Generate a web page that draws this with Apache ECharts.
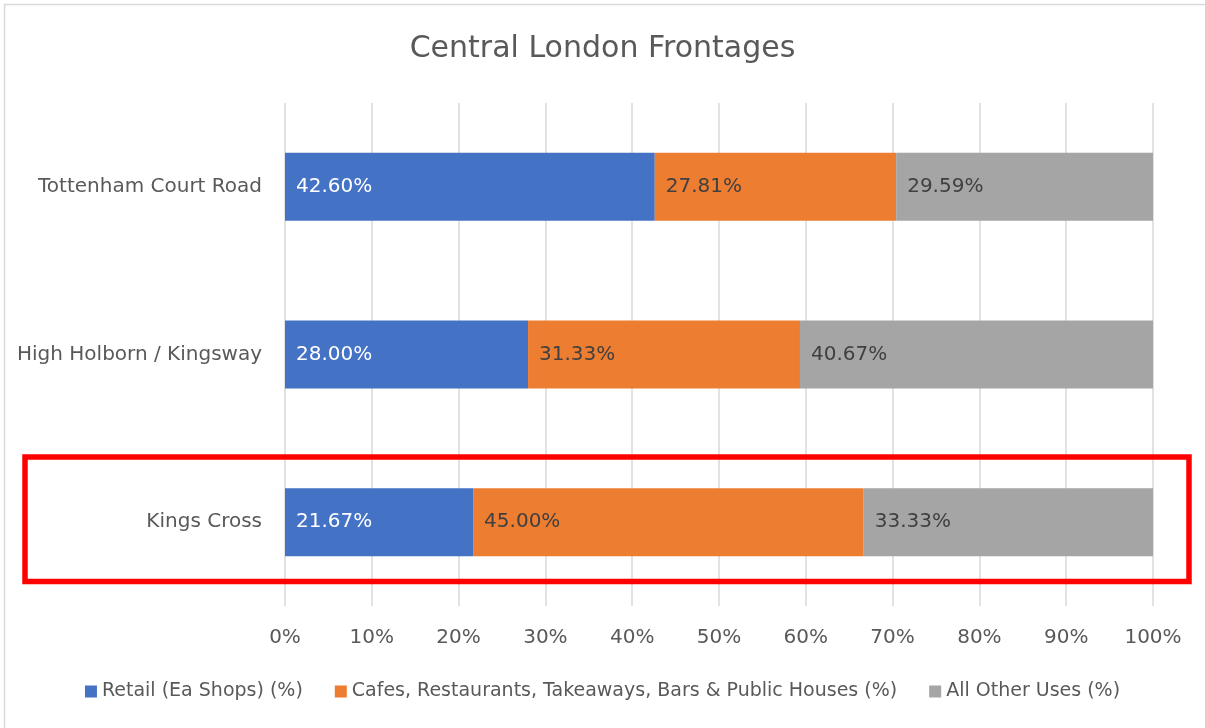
<!DOCTYPE html>
<html><head><meta charset="utf-8">
<script src="https://cdn.jsdelivr.net/npm/echarts@6/dist/echarts.min.js"></script>
<style>html,body{margin:0;padding:0;background:#fff}#c{width:1205px;height:728px}</style>
</head><body><div id="c"></div>
<script>
var categories = ['Kings Cross', 'High Holborn / Kingsway', 'Tottenham Court Road'];
var seriesNames = ['Retail (Ea Shops) (%)', 'Cafes, Restaurants, Takeaways, Bars & Public Houses (%)', 'All Other Uses (%)'];
var retail = [21.67, 28.00, 42.60];
var cafes = [45.00, 31.33, 27.81];
var other = [33.33, 40.67, 29.59];
var xTicks = [0, 10, 20, 30, 40, 50, 60, 70, 80, 90, 100];

var font = '"DejaVu Sans", sans-serif';
var colors = ['#4472C4', '#ED7D31', '#A5A5A5'];
var labelColors = ['#FFFFFF', '#404040', '#404040'];
var chart = echarts.init(document.getElementById('c'));
function mk(name, data, i) {
  return {
    name: name, type: 'bar', stack: 'a', data: data, barWidth: 68,
    itemStyle: { color: colors[i] },
    label: { show: true, position: 'insideLeft', distance: 11, color: labelColors[i],
      fontFamily: font, fontSize: 20,
      formatter: function (p) { return p.value.toFixed(2) + '%'; } },
    emphasis: { disabled: true }
  };
}
chart.setOption({
  animation: false,
  textStyle: { fontFamily: font },
  title: { text: 'Central London Frontages', left: 'center', top: 29,
    textStyle: { fontFamily: font, fontSize: 30, fontWeight: 'normal', color: '#595959' } },
  grid: { left: 285, right: 52, top: 103, bottom: 122 },
  legend: { bottom: 22, left: 'center', itemWidth: 12, itemHeight: 12, itemGap: 32,
    icon: 'rect', data: seriesNames,
    textStyle: { fontFamily: font, fontSize: 19, color: '#595959' } },
  xAxis: { type: 'value', min: 0, max: 100, interval: 10,
    axisLine: { show: false }, axisTick: { show: false },
    splitLine: { lineStyle: { color: '#D9D9D9', width: 1.5 } },
    axisLabel: { margin: 22, fontSize: 20, color: '#595959', fontFamily: font,
      formatter: function (v) { return xTicks.indexOf(v) >= 0 ? v + '%' : ''; } } },
  yAxis: { type: 'category', data: categories,
    axisLine: { show: false }, axisTick: { show: false },
    axisLabel: { margin: 23, fontSize: 20, color: '#595959', fontFamily: font } },
  series: [mk(seriesNames[0], retail, 0), mk(seriesNames[1], cafes, 1), mk(seriesNames[2], other, 2)],
  graphic: [
    { type: 'rect', shape: { x: 4.5, y: 4.5, width: 1300, height: 800 },
      style: { fill: 'none', stroke: '#D9D9D9', lineWidth: 1.5 }, silent: true },
    { type: 'rect', shape: { x: 25, y: 457, width: 1164, height: 124.5 },
      style: { fill: 'none', stroke: '#FF0000', lineWidth: 5.5 }, silent: true, z: 100 }
  ]
});
</script></body></html>
